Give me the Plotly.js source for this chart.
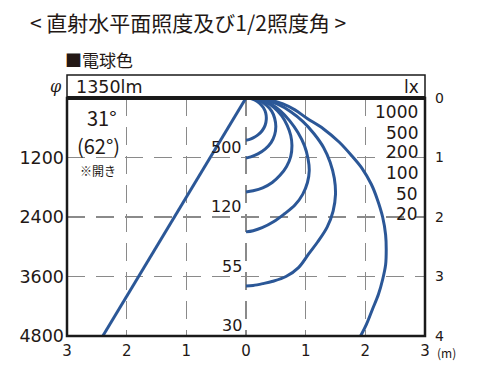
<!DOCTYPE html>
<html><head><meta charset="utf-8">
<script src="https://cdn.plot.ly/plotly-3.0.1.min.js"></script>
<style>html,body{margin:0;padding:0;background:#fff;}#c{width:480px;height:371px;}</style>
</head><body><div id="c"></div>
<script>
// Isolux curves (x: horizontal distance m, y: depth m)
const lux1000X = [0,0.08,0.16,0.23,0.29,0.33,0.34,0.32,0.27,0.20,0.12,0.05,0];
const lux1000Y = [0,0.01,0.04,0.09,0.16,0.25,0.36,0.46,0.55,0.62,0.67,0.70,0.71];
const lux500X = [0,0.11,0.23,0.34,0.43,0.48,0.50,0.48,0.42,0.32,0.20,0.08,0];
const lux500Y = [0,0.01,0.05,0.12,0.22,0.34,0.48,0.62,0.75,0.86,0.94,0.99,1.01];
const lux200X = [0,0.17,0.33,0.47,0.60,0.69,0.75,0.77,0.75,0.68,0.57,0.44,0.28,0.12,0];
const lux200Y = [0,0.02,0.07,0.16,0.30,0.46,0.63,0.80,0.98,1.15,1.30,1.42,1.51,1.56,1.58];
const lux100X = [0,0.24,0.42,0.58,0.73,0.87,0.98,1.04,1.06,1.03,0.95,0.82,0.64,0.46,0.27,0.12,0];
const lux100Y = [0,0.03,0.10,0.22,0.38,0.58,0.80,1.02,1.22,1.42,1.62,1.80,1.95,2.08,2.18,2.23,2.25];
const lux50X = [0,0.30,0.52,0.75,0.96,1.14,1.30,1.41,1.48,1.50,1.46,1.36,1.20,1.05,0.88,0.67,0.45,0.28,0.12,0];
const lux50Y = [0,0.03,0.10,0.23,0.40,0.60,0.83,1.08,1.35,1.62,1.90,2.17,2.42,2.62,2.85,3.00,3.08,3.12,3.15,3.16];
const lux20X = [0,0.38,0.62,0.82,1.02,1.30,1.56,1.78,1.95,2.10,2.20,2.29,2.34,2.35,2.34,2.29,2.22,2.12,2.02,1.92];
const lux20Y = [0,0.03,0.10,0.20,0.34,0.52,0.74,0.98,1.19,1.45,1.70,2.00,2.30,2.55,2.80,3.05,3.30,3.55,3.80,4.00];
// 1/2 beam angle line
const beamX = [0,-2.40];
const beamY = [0,4.0];
// Center illuminance labels
const centerLux = ['500','120','55','30'];
const centerDepth = [1,2,3,4];
// Isolux legend labels
const isoLabels = ['1000','500','200','100','50','20'];
const isoLabelDepth = [0.235,0.58,0.91,1.26,1.61,1.95];
// Tick labels
const xTickVals = [-3,-2,-1,0,1,2,3];
const xTickText = ['3','2','1','0','1','2','3'];
const yLeftVals = [1,2,3,4];
const yLeftText = ['1200','2400','3600','4800'];
const yRightVals = [0,1,2,3,4];
const yRightText = ['0','1','2','3','4'];

const FONT = '"Noto Sans CJK JP", "Noto Sans", sans-serif';
const NUM = '"DejaVu Sans", sans-serif';
const TXT = '#231815';
const BLUE = '#2b5797';

const curves = [[lux1000X,lux1000Y],[lux500X,lux500Y],[lux200X,lux200Y],[lux100X,lux100Y],[lux50X,lux50Y],[lux20X,lux20Y]];
const traces = curves.map(c => ({x:c[0], y:c[1], mode:'lines', line:{color:BLUE, width:3, shape:'spline', smoothing:1}, hoverinfo:'none', showlegend:false}));
traces.push({x:beamX, y:beamY, mode:'lines', line:{color:BLUE, width:3}, hoverinfo:'none', showlegend:false});
traces.push({x:[null], y:[null], yaxis:'y2', mode:'lines', showlegend:false, hoverinfo:'none'});

const L=67, R=425, T=98, B=336;
const px = v => (v-L)/(R-L);
const py = v => (B-v)/(B-T);

const ann = [];
centerLux.forEach((t,i)=>ann.push({x:-0.04, y:centerDepth[i]-0.17, xref:'x', yref:'y', text:t, showarrow:false, xanchor:'right', yanchor:'middle', font:{family:NUM, size:16, color:TXT}}));
isoLabels.forEach((t,i)=>ann.push({x:2.91, y:isoLabelDepth[i], xref:'x', yref:'y', text:t, showarrow:false, xanchor:'right', yanchor:'middle', font:{family:NUM, size:17, color:TXT}}));
ann.push({x:px(28), y:py(22), xref:'paper', yref:'paper', text:'< 直射水平面照度及び1/2照度角 >', showarrow:false, xanchor:'left', yanchor:'middle', font:{family:FONT, size:21, color:TXT}});
ann.push({x:px(63), y:py(60), xref:'paper', yref:'paper', text:'■電球色', showarrow:false, xanchor:'left', yanchor:'middle', font:{family:FONT, size:17, color:TXT}});
ann.push({x:px(74), y:py(87), xref:'paper', yref:'paper', text:'1350lm', showarrow:false, xanchor:'left', yanchor:'middle', font:{family:NUM, size:17.5, color:TXT}});
ann.push({x:px(421), y:py(87), xref:'paper', yref:'paper', text:'lx', showarrow:false, xanchor:'right', yanchor:'middle', font:{family:NUM, size:17, color:TXT}});
ann.push({x:px(64), y:py(87), xref:'paper', yref:'paper', text:'<i>φ</i>', showarrow:false, xanchor:'right', yanchor:'middle', font:{family:'"DejaVu Serif", serif', size:16, color:TXT}});
ann.push({x:px(102), y:py(117), xref:'paper', yref:'paper', text:'31°', showarrow:false, xanchor:'center', yanchor:'middle', font:{family:FONT, size:20, color:TXT}});
ann.push({x:px(98), y:py(145), xref:'paper', yref:'paper', text:'(62°)', showarrow:false, xanchor:'center', yanchor:'middle', font:{family:FONT, size:20, color:TXT}});
ann.push({x:px(98), y:py(159.5), xref:'paper', yref:'paper', text:'※開き', showarrow:false, xanchor:'center', yanchor:'top', font:{family:FONT, size:12, color:TXT}});
ann.push({x:px(435), y:py(352), xref:'paper', yref:'paper', text:'(m)', showarrow:false, xanchor:'left', yanchor:'middle', font:{family:FONT, size:12, color:TXT}});

const gridStyle = {showgrid:true, gridcolor:'#8a8a8a', gridwidth:1.5, griddash:'18px,11px', zeroline:false, showline:false, ticks:''};

const layout = {
  width:480, height:371,
  margin:{l:L, r:480-R, t:T, b:371-B, pad:0},
  paper_bgcolor:'#fff', plot_bgcolor:'#fff',
  font:{family:FONT, color:TXT},
  xaxis:Object.assign({range:[-3,3], tickvals:xTickVals, ticktext:xTickText, tickfont:{family:NUM, size:15, color:TXT}, ticklabelstandoff:4, fixedrange:true}, gridStyle),
  yaxis:Object.assign({range:[4,0], tickvals:yLeftVals, ticktext:yLeftText, tickfont:{family:NUM, size:17.5, color:TXT}, fixedrange:true, ticklabelstandoff:2}, gridStyle),
  yaxis2:{overlaying:'y', side:'right', range:[4,0], tickvals:yRightVals, ticktext:yRightText, showgrid:false, zeroline:false, showline:false, ticks:'', tickfont:{family:NUM, size:14, color:TXT}, ticklabelstandoff:9, fixedrange:true},
  shapes:[
    {type:'rect', xref:'paper', yref:'paper', x0:0, x1:1, y0:0, y1:1, line:{color:'#1a1a1a', width:2.5}, layer:'above'},
    {type:'line', xref:'paper', yref:'paper', x0:0, x1:1, y0:1, y1:1, line:{color:'#1a1a1a', width:4}, layer:'above'},
    {type:'rect', xref:'paper', yref:'paper', x0:0, x1:1, y0:1, y1:py(75), line:{color:'#1a1a1a', width:1.5}, layer:'above'}
  ],
  annotations:ann,
  showlegend:false
};
Plotly.newPlot('c', traces, layout, {staticPlot:true, displayModeBar:false});
</script></body></html>
